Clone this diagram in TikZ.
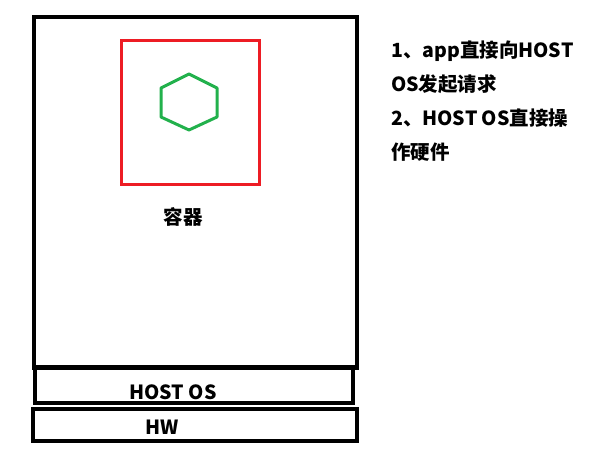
\documentclass[tikz,border=0pt]{standalone}
\usepackage{fontspec}
\setmainfont{Noto Sans CJK SC}
\usepackage{tikz}
\definecolor{paintred}{RGB}{237,28,36}
\definecolor{paintgreen}{RGB}{34,177,76}

\begin{document}
\begin{tikzpicture}[x=1pt,y=-1pt,
    layer box/.style={draw,line width=4pt,inner sep=0pt},
    label text/.style={font=\bfseries\fontsize{19.5}{22}\selectfont,inner sep=0pt},
    note text/.style={font=\bfseries\fontsize{19.5}{34}\selectfont,align=left,inner sep=0pt,anchor=north west}]
    \useasboundingbox (0,0) rectangle (589,461);

    \node[layer box,minimum width=323pt,minimum height=351pt] (host) at (195.5,192.5) {};
    \node[layer box,minimum width=318pt,minimum height=36pt] (os) at (194,385) {};
    \node[layer box,minimum width=324pt,minimum height=32pt] (hw) at (195,425) {};
    \node[draw=paintred,line width=3pt,minimum width=138pt,minimum height=144pt] (container) at (190,112) {};

    \draw[paintgreen,line width=3pt,line join=round]
        (189,74) -- (217,88) -- (217,117) -- (189,130) -- (161,117) -- (161,88) -- cycle;

    \node[label text] (containerlabel) at (183,217) {容器};
    \node[label text] (oslabel) at (173,392) {HOST OS};
    \node[label text] (hwlabel) at (162,427) {HW};

    \node[note text] (notes) at (391,41) {1、app直接向HOST\\OS发起请求\\2、HOST OS直接操\\作硬件};

\end{tikzpicture}
\end{document}
